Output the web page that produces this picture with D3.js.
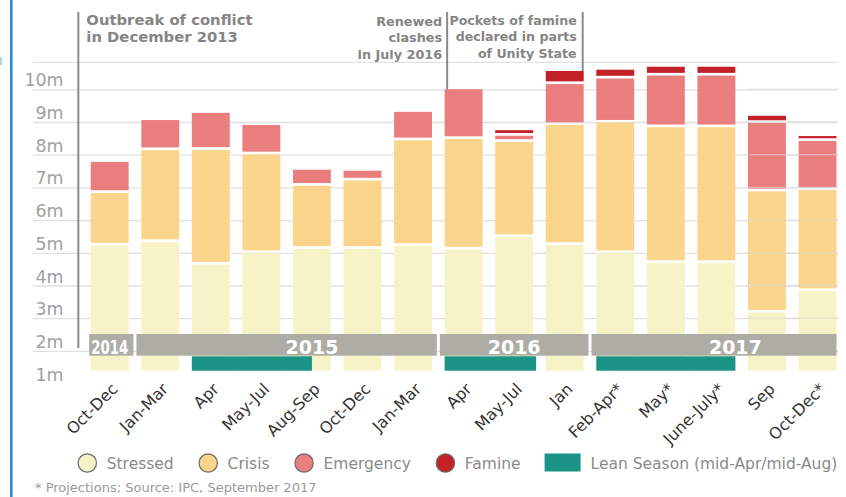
<!DOCTYPE html>
<html>
<head>
<meta charset="utf-8">
<script src="https://cdn.jsdelivr.net/npm/d3@7"></script>
<style>
  body { margin: 0; background: #fff; }
  svg { display: block; font-family: "DejaVu Sans", Verdana, sans-serif; }
  svg text { font-family: "DejaVu Sans", Verdana, sans-serif; }
</style>
</head>
<body>
<svg id="chart"></svg>
<script>
var width = 846;
var height = 497;

// periods (unique keys) and the labels shown under the bars
var periods = ["Oct-Dec 2014", "Jan-Mar 2015", "Apr 2015", "May-Jul 2015", "Aug-Sep 2015",
  "Oct-Dec 2015", "Jan-Mar 2016", "Apr 2016", "May-Jul 2016", "Jan 2017",
  "Feb-Apr 2017", "May 2017", "June-July 2017", "Sep 2017", "Oct-Dec 2017"];
var periodLabels = ["Oct-Dec", "Jan-Mar", "Apr", "May-Jul", "Aug-Sep",
  "Oct-Dec", "Jan-Mar", "Apr", "May-Jul", "Jan",
  "Feb-Apr*", "May*", "June-July*", "Sep", "Oct-Dec*"];

// millions of people, by IPC phase
var stressed  = [5.22, 5.33, 4.64, 4.99, 5.12, 5.12, 5.21, 5.10, 5.48, 5.24, 4.99, 4.69, 4.69, 3.17, 3.83];
var crisis    = [1.61, 2.81, 3.51, 3.02, 1.93, 2.09, 3.23, 3.38, 2.91, 3.67, 3.99, 4.15, 4.15, 3.71, 3.09];
var emergency = [0.95, 0.92, 1.13, 0.90, 0.49, 0.30, 0.87, 1.52, 0.19, 1.25, 1.35, 1.58, 1.58, 2.09, 1.50];
var famine    = [0, 0, 0, 0, 0, 0, 0, 0, 0.17, 0.40, 0.27, 0.27, 0.27, 0.22, 0.15];

var phases = ["stressed", "crisis", "emergency", "famine"];
var phaseNames = ["Stressed", "Crisis", "Emergency", "Famine"];
var phaseColors = ["#f6f3c6", "#fbd58c", "#ea7e7f", "#c22127"];

var yTicks = [1, 2, 3, 4, 5, 6, 7, 8, 9, 10];
var gridTicks = [2, 3, 4, 5, 6, 7, 8, 9, 10];

var years = ["2014", "2015", "2016", "2017"];
var yearFirst = ["Oct-Dec 2014", "Jan-Mar 2015", "Apr 2016", "Feb-Apr 2017"];
var yearLast = ["Oct-Dec 2014", "Jan-Mar 2016", "Jan 2017", "Oct-Dec 2017"];
var yearLabelAt = ["Oct-Dec 2014", "Aug-Sep 2015", "May-Jul 2016", "June-July 2017"];
var yearLabelFrac = [0.5, 0.5, 0.5, 1];

var leanFrom = ["Apr 2015", "Apr 2016", "Feb-Apr 2017"];
var leanTo = ["Aug-Sep 2015", "May-Jul 2016", "June-July 2017"];
var leanToFrac = [0.5, 1.08, 1];

var noteOutbreak = ["Outbreak of conflict", "in December 2013"];
var noteClashes = ["Renewed", "clashes", "in July 2016"];
var noteFamine = ["Pockets of famine", "declared in parts", "of Unity State"];

var legendLean = "Lean Season (mid-Apr/mid-Aug)";
var footnote = "* Projections; Source: IPC, September 2017";

var plotTop = 62.3;
var plotBottom = 370.5;
var gridLeft = 33;
var gridRight = 838;

var svg = d3.select('#chart')
  .attr('width', width)
  .attr('height', height);

var x = d3.scaleBand()
  .domain(periods)
  .range([84.4, 842.8])
  .paddingInner(0.25)
  .paddingOuter(0.125);

var y = d3.scaleLinear()
  .domain([0, 10])
  .range([416.3, 89.3]);

var bw = x.bandwidth();
var halfGap = (x.step() - bw) / 2;

// left blue stripe
svg.append('rect')
  .attr('x', 10).attr('y', 0)
  .attr('width', 2.6).attr('height', height)
  .attr('fill', '#2a8fd0');
svg.append('rect')
  .attr('x', 0).attr('y', 57)
  .attr('width', 1.8).attr('height', 8)
  .attr('fill', '#9fd3ee');

// top frame line
svg.append('line')
  .attr('x1', gridLeft).attr('x2', gridRight)
  .attr('y1', plotTop).attr('y2', plotTop)
  .attr('stroke', '#e2e2e2')
  .attr('stroke-width', 1.3);

// gridlines
var grid = svg.append('g')
  .attr('class', 'grid')
  .attr('transform', `translate(${gridLeft}, 0)`)
  .call(d3.axisLeft(y)
    .tickValues(gridTicks)
    .tickSize(-(gridRight - gridLeft))
    .tickFormat(''));
grid.select('.domain').remove();
grid.selectAll('line')
  .attr('stroke', '#e0e0e0')
  .attr('stroke-width', 1.3);

// y labels sit just above their gridline
var yAxis = svg.append('g')
  .attr('transform', 'translate(66.5, 0)')
  .call(d3.axisLeft(y)
    .tickValues(yTicks)
    .tickSize(0)
    .tickFormat(d => d + 'm'));
yAxis.attr('font-family', null).attr('font-size', null);
yAxis.select('.domain').remove();
yAxis.selectAll('text')
  .attr('dy', -3.5)
  .attr('fill', '#a0a0a0')
  .style('font-size', '17.4px');

// stacked bars
var rows = periods.map(function(p, i){
  return { period: p, stressed: stressed[i], crisis: crisis[i], emergency: emergency[i], famine: famine[i] };
});
var series = d3.stack().keys(phases)(rows);

svg.append('clipPath')
  .attr('id', 'plot-clip')
  .append('rect')
    .attr('x', 0).attr('y', 0)
    .attr('width', width).attr('height', plotBottom);

var bars = svg.append('g')
  .attr('clip-path', 'url(#plot-clip)');

bars.selectAll('g')
  .data(series)
  .enter()
  .append('g')
    .attr('fill', (d, i) => phaseColors[i])
  .selectAll('rect')
  .data(d => d.filter(s => s[1] - s[0] > 0))
  .enter()
  .append('rect')
    .attr('x', d => x(d.data.period))
    .attr('y', d => y(d[1]))
    .attr('width', bw)
    .attr('height', d => Math.max(0.8, y(d[0]) - y(d[1]) - 2.7));

// gridlines showing through the last two bars
svg.append('g')
  .selectAll('line')
  .data(gridTicks)
  .enter()
  .append('line')
    .attr('x1', x('Sep 2017') - 2)
    .attr('x2', gridRight)
    .attr('y1', d => y(d))
    .attr('y2', d => y(d))
    .attr('stroke', '#d8d8d8')
    .attr('stroke-opacity', 0.6)
    .attr('stroke-width', 1.3);

// year band
var yearBand = svg.append('g');
years.forEach(function(yr, i){
  var left = i === 0 ? x(yearFirst[i]) - 1.5 : x(yearFirst[i]) - halfGap + 1.5;
  var right = i === years.length - 1 ? x(yearLast[i]) + bw : x(yearLast[i]) + bw + halfGap - 1.5;
  yearBand.append('rect')
    .attr('x', left).attr('y', 334)
    .attr('width', right - left).attr('height', 21.7)
    .attr('fill', '#adada5');
  var t = yearBand.append('text')
    .attr('x', x(yearLabelAt[i]) + bw * yearLabelFrac[i])
    .attr('y', 354)
    .attr('text-anchor', 'middle')
    .attr('fill', '#fff')
    .style('font-weight', 'bold')
    .style('font-size', '19px')
    .text(yr);
  if (i === 0) {
    t.attr('textLength', 37).attr('lengthAdjust', 'spacingAndGlyphs');
  }
});

// lean season
svg.append('g')
  .selectAll('rect')
  .data(leanFrom)
  .enter()
  .append('rect')
    .attr('x', d => x(d))
    .attr('y', 356.3)
    .attr('width', (d, i) => x(leanTo[i]) + bw * leanToFrac[i] - x(d))
    .attr('height', 14.4)
    .attr('fill', '#1b9485');

// x labels
svg.append('g')
  .selectAll('text')
  .data(periods)
  .enter()
  .append('text')
    .attr('transform', (d, i) => `translate(${x(d) + bw / 2 + 9}, 390) rotate(-45)`)
    .attr('text-anchor', 'end')
    .attr('fill', '#333')
    .style('font-size', '16px')
    .text((d, i) => periodLabels[i]);

// annotations
var noteColor = '#858585';
function noteLine(xp, y1, y2){
  svg.append('line')
    .attr('x1', xp).attr('x2', xp)
    .attr('y1', y1).attr('y2', y2)
    .attr('stroke', '#8a8a8a')
    .attr('stroke-width', 2);
}
function noteText(lines, xp, anchor, size, y0, lh){
  svg.append('text')
    .attr('fill', noteColor)
    .attr('text-anchor', anchor)
    .style('font-weight', 'bold')
    .style('font-size', size + 'px')
    .selectAll('tspan')
    .data(lines)
    .enter()
    .append('tspan')
      .attr('x', xp)
      .attr('y', (d, i) => y0 + i * lh)
      .text(d => d);
}

var outbreakX = x(periods[0]) - 12.4;
noteLine(outbreakX, 12, 348);
noteText(noteOutbreak, outbreakX + 8, 'start', 14.8, 25, 16.8);

var clashesX = x('Apr 2016') + 2.5;
noteLine(clashesX, 12, y(stressed[7] + crisis[7] + emergency[7] + famine[7]));
noteText(noteClashes, clashesX - 5, 'end', 12.8, 25.5, 16.8);

var famineX = x('Jan 2017') + bw - 1;
noteLine(famineX, 12, y(stressed[9] + crisis[9] + emergency[9] + famine[9]));
noteText(noteFamine, famineX - 6, 'end', 12.6, 24.5, 16.8);

// legend
var legend = svg.append('g');
var lx = 87.3;
var ly = 463;
phaseNames.forEach(function(name, i){
  legend.append('circle')
    .attr('cx', lx).attr('cy', ly)
    .attr('r', 9.2)
    .attr('fill', phaseColors[i])
    .attr('stroke', '#6b6b6b')
    .attr('stroke-width', 1.2);
  var t = legend.append('text')
    .attr('x', lx + 19.4)
    .attr('y', ly + 6)
    .attr('fill', '#8a8a8a')
    .style('font-size', '15.5px')
    .text(name);
  lx = lx + 19.4 + t.node().getComputedTextLength() + 34.5;
});
lx = lx - 34.5 + 24;
legend.append('rect')
  .attr('x', lx).attr('y', 453.5)
  .attr('width', 36).attr('height', 18)
  .attr('fill', '#1b9485');
legend.append('text')
  .attr('x', lx + 46)
  .attr('y', ly + 6)
  .attr('fill', '#8a8a8a')
  .style('font-size', '15.5px')
  .text(legendLean);

// footnote
svg.append('text')
  .attr('x', 35)
  .attr('y', 492)
  .attr('fill', '#9a9a9a')
  .style('font-size', '13px')
  .text(footnote);
</script>
</body>
</html>
